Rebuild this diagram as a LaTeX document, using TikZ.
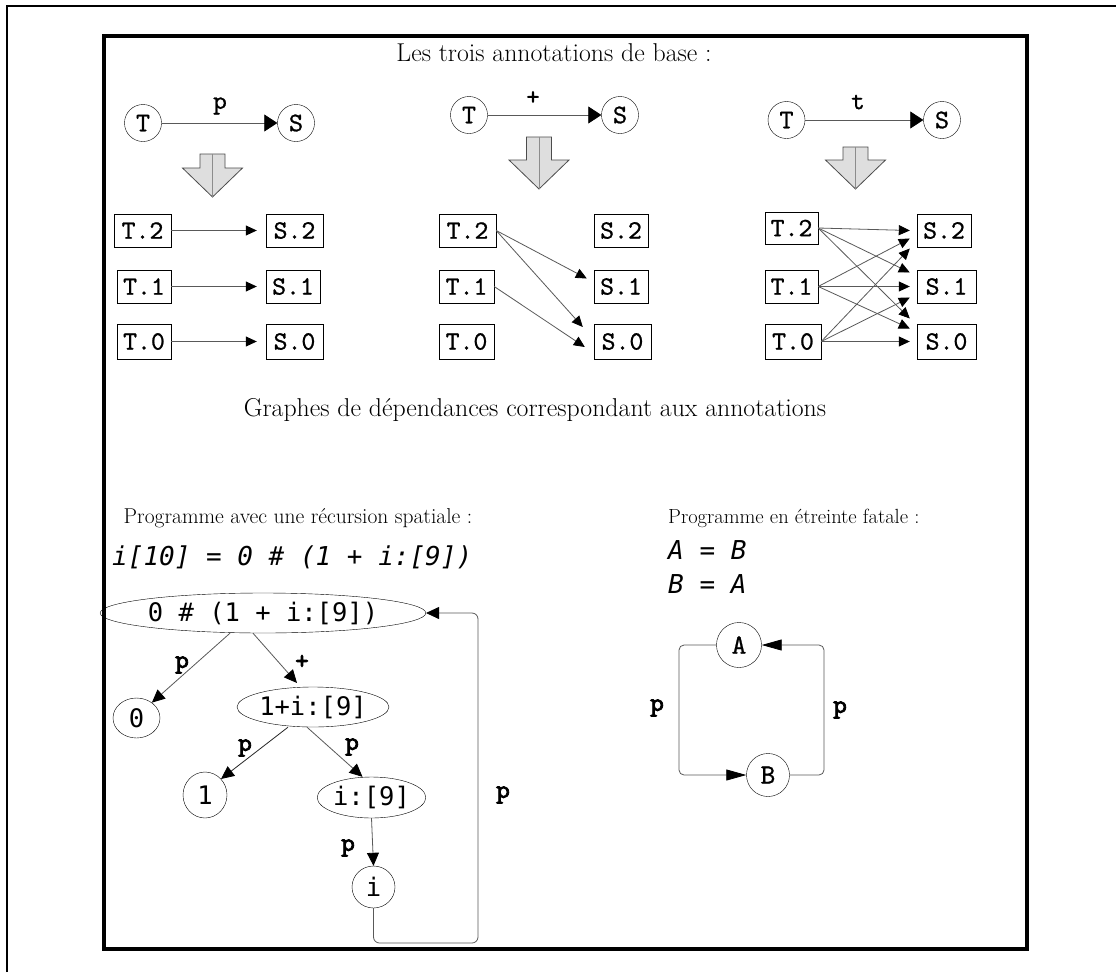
\documentclass[tikz,border=0pt]{standalone}
\usepackage{fontspec}
\newfontfamily\djmono{DejaVu Sans Mono}
\newfontfamily\cour{lmmono10-regular}[Extension=.otf, FakeBold=0.8]
\newfontfamily\courb{lmmono10-regular}[Extension=.otf, FakeBold=3]
\usetikzlibrary{arrows.meta,shapes.geometric,calc}
\begin{document}
\begin{tikzpicture}[x=1pt,y=-1pt,
  ser/.style={font=\fontsize{25.8}{30}\selectfont, inner sep=0},
  serb/.style={font=\fontsize{21.5}{25}\selectfont, inner sep=0},
  tcirc/.style={circle, draw, inner sep=0, minimum size=37, font=\cour\fontsize{27}{27}\selectfont},
  tbox/.style={rectangle, draw, inner sep=0, minimum height=33, font=\cour\fontsize{26.5}{26.5}\selectfont},
  tlab/.style={inner sep=0, font=\cour\fontsize{26}{26}\selectfont},
  blab/.style={inner sep=0, font=\courb\fontsize{26}{26}\selectfont},
  code/.style={inner sep=0, anchor=west, font=\djmono\itshape\fontsize{26}{26}\selectfont},
  ell/.style={ellipse, draw, inner sep=0, font=\djmono\fontsize{25.5}{25.5}\selectfont},
  conn/.style={draw=black!65, line width=0.8},
  bigarr/.style={conn, -{Triangle[length=13pt,width=17pt,color=black]}},
  deparr/.style={conn, -{Triangle[length=11pt,width=10pt,color=black]}},
  garr/.style={conn, -{Triangle[length=13pt,width=12pt,color=black]}},
  larr/.style={conn, -{Triangle[length=20pt,width=11pt,color=black]}},
  blk/.style={draw=black!70, fill=black!13, line width=0.8}
]
\useasboundingbox (0,0) rectangle (1116,972);
\fill[white] (0,0) rectangle (1116,972);
% frames
\draw[line width=1.2] (7,972) -- (7,6) -- (1116,6);
\draw[line width=4] (103.5,36) rectangle (1026.5,949);

% titles
\node[ser] (title) at (554,53) {Les trois annotations de base :};
\node[ser] (sub) at (535,410) {Graphes de dépendances correspondant aux annotations};

% top annotation arrows
\node[tcirc] (lT) at (143,123) {T};
\node[tcirc] (lS) at (296,123) {S};
\draw[bigarr] (lT) -- (lS);
\node[tlab] (lp) at (220,106) {p};

\node[tcirc] (mT) at (469,115) {T};
\node[tcirc] (mS) at (620,115) {S};
\draw[bigarr] (mT) -- (mS);
\node[tlab] (mp) at (533,98) {+};

\node[tcirc] (rT) at (786.5,120) {T};
\node[tcirc] (rS) at (942,120) {S};
\draw[bigarr] (rT) -- (rS);
\node[tlab] (rp) at (858,102) {t};

% block arrows
\newcommand\blockarr[4]{%
  \draw[blk] ({#1-12.5},#2) -- ({#1+12.5},#2) -- ({#1+12.5},#3) -- ({#1+30},#3)
    -- (#1,#4) -- ({#1-30},#3) -- ({#1-12.5},#3) -- cycle;
  \draw[black!45, line width=0.6] (#1,#2) -- (#1,#4);}
\blockarr{212.5}{154}{168}{197}
\blockarr{539}{137}{160}{189}
\blockarr{855.5}{147}{160}{189}

% left column boxes
\node[tbox, minimum width=57] (lT2) at (142.5,230.5) {T.2};
\node[tbox, minimum width=57] (lS2) at (294.5,230.5) {S.2};
\node[tbox, minimum width=54] (lT1) at (144,286.5) {T.1};
\node[tbox, minimum width=54] (lS1) at (293,286.5) {S.1};
\node[tbox, minimum width=54, minimum height=35] (lT0) at (144,341.5) {T.0};
\node[tbox, minimum width=57, minimum height=35] (lS0) at (294.5,341.5) {S.0};
\draw[deparr] (lT2.east) -- ($(lS2.west)+(-9,0)$);
\draw[deparr] (lT1.east) -- ($(lS1.west)+(-9,0)$);
\draw[deparr] (lT0.east) -- ($(lS0.west)+(-9,0)$);

% middle column boxes
\node[tbox, minimum width=57] (mT2) at (467.5,230.5) {T.2};
\node[tbox, minimum width=54] (mS2) at (621,230.5) {S.2};
\node[tbox, minimum width=55] (mT1) at (466.5,286.5) {T.1};
\node[tbox, minimum width=54] (mS1) at (621,286.5) {S.1};
\node[tbox, minimum width=55, minimum height=35] (mT0) at (466.5,341.5) {T.0};
\node[tbox, minimum width=57, minimum height=35] (mS0) at (622.5,341.5) {S.0};
\draw[deparr] (mT2.east) -- ($(mS1.west)+(-7,-8)$);
\draw[deparr] (mT2.east) -- ($(mS0.west)+(-11,-14.5)$);
\draw[deparr] (mT1.east) -- ($(mS0.west)+(-9,5.5)$);

% right column boxes
\node[tbox, minimum width=53, minimum height=32] (rT2) at (791.5,228) {T.2};
\node[tbox, minimum width=54] (rS2) at (944,230.5) {S.2};
\node[tbox, minimum width=53] (rT1) at (791.5,286.5) {T.1};
\node[tbox, minimum width=59] (rS1) at (946.5,286.5) {S.1};
\node[tbox, minimum width=56, minimum height=35] (rT0) at (793,341.5) {T.0};
\node[tbox, minimum width=59, minimum height=35] (rS0) at (946.5,341.5) {S.0};
\draw[deparr] (rT2.east) -- ($(rS2.west)+(-7,0)$);
\draw[deparr] (rT1.east) -- ($(rS2.west)+(-7,8)$);
\draw[deparr] (rT0.east) -- ($(rS2.west)+(-7,18)$);
\draw[deparr] (rT2.east) -- ($(rS1.west)+(-7,-14)$);
\draw[deparr] (rT1.east) -- ($(rS1.west)+(-7,0)$);
\draw[deparr] (rT0.east) -- ($(rS1.west)+(-7,11)$);
\draw[deparr] (rT2.east) -- ($(rS0.west)+(-7,-23)$);
\draw[deparr] (rT1.east) -- ($(rS0.west)+(-7,-13)$);
\draw[deparr] (rT0.east) -- ($(rS0.west)+(-7,0)$);

% lower section texts
\node[serb] (prog1) at (298,518) {Programme avec une récursion spatiale :};
\node[code] (code1) at (112,557) {i[10] = 0 \# (1 + i:[9])};
\node[serb, anchor=west, font=\fontsize{20.5}{24}\selectfont] (prog2) at (668,518) {Programme en étreinte fatale :};
\node[code] (code2) at (668,550) {A = B};
\node[code] (code3) at (668,584) {B = A};

% recursion graph
\node[ell, minimum width=272, minimum height=40] (E0) at (263,613) {0 \# (1 + i:[9])\hspace{14pt}};
\node[ell, minimum width=47, minimum height=40] (C0) at (136.5,718) {0};
\node[ell, minimum width=148, minimum height=40] (E1) at (313,707) {1+i:[9]};
\node[ell, minimum width=44, minimum height=46] (C1) at (205,795) {1};
\node[ell, minimum width=104, minimum height=41] (E2) at (371.5,797.5) {i:[9]};
\node[ell, minimum width=43, minimum height=42] (Ci) at (373.5,887) {i};
\draw[garr] ($(E0.south)+(-33,0)$) -- (C0.45);
\draw[garr] ($(E0.south)+(-10,0)$) -- ($(E1.center)+(-16,-24)$);
\draw[garr, draw=black!85] ($(E1.south)+(-25,0)$) -- (C1.45);
\draw[garr] ($(E1.south)+(-6,0)$) -- ($(E2.north)+(-9,0)$);
\draw[garr] (E2.south) -- (Ci.north);
\coordinate (loopc) at (478,943);
\draw[garr, rounded corners=6] (Ci.south) |- (loopc) |- (E0.east);
\node[blab] (p1) at (182,665) {p};
\node[blab] (p2) at (302,662) {+};
\node[blab] (p3) at (245,748) {p};
\node[blab] (p4) at (352,747) {p};
\node[blab] (p5) at (348,848) {p};
\node[blab] (p6) at (503,795) {p};

% deadlock graph
\node[tcirc, minimum size=45, font=\cour\fontsize{28}{28}\selectfont] (A) at (739,645) {A};
\node[tcirc, minimum size=43, font=\cour\fontsize{28}{28}\selectfont] (B) at (768,775) {B};
\coordinate (Lc) at (679,775);
\coordinate (Rc) at (824,645);
\draw[larr, rounded corners=5] (A.west) -| (Lc) -- (B.west);
\draw[larr, rounded corners=5] (B.east) -| (Rc) -- (A.east);
\node[blab] (p7) at (657,708) {p};
\node[blab] (p8) at (840,710) {p};
\end{tikzpicture}
\end{document}
